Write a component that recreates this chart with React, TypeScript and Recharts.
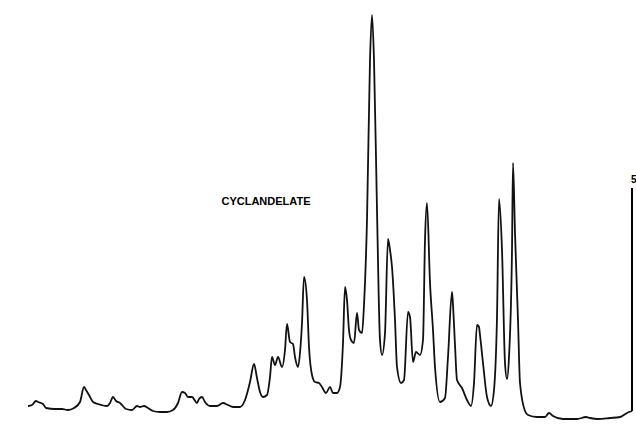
import { LineChart, Line, XAxis, YAxis, ReferenceLine, ReferenceDot } from 'recharts';

// channel position along the trace
const channels = [
  28, 32, 36, 38, 43, 46, 55, 62, 68, 74, 80, 84, 86, 89, 93, 98, 107, 110, 113, 116,
  120, 126, 132, 137, 140, 144, 148, 153, 160, 167, 173, 178, 182, 185, 188, 192, 197, 199, 202, 205,
  210, 217, 223, 228, 233, 240, 245, 250, 254, 257, 260, 263, 267, 270, 272, 275, 278, 282, 285, 287,
  290, 293, 295, 298, 300, 302, 304, 307, 309, 312, 315, 319, 322, 326, 330, 333, 337, 340, 343, 345,
  347, 349, 351, 354, 357, 359, 362, 364, 367, 370, 372, 374, 377, 380, 382, 385, 388, 390, 392, 395,
  397, 401, 404, 408, 410, 413, 416, 420, 423, 425, 427, 430, 433, 435, 440, 445, 448, 452, 453, 455,
  457, 462, 467, 471, 474, 477, 479, 480, 483, 487, 491, 494, 497, 499, 502, 505, 507, 509, 512, 513,
  515, 518, 520, 525, 528, 537, 545, 549, 553, 563, 577, 586, 590, 598, 610, 620, 627, 632,
];

// trace height (baseline ~0)
const intensity = [
  4, 5, 9, 8, 6, 2, 1, 1, 0, 2, 8, 23, 20, 15, 8, 6, 4, 7, 13, 9,
  7, 1, 0, 4, 3, 4, 2, -1, -2, -2, 0, 7, 18, 17, 13, 13, 7, 11, 13, 8,
  4, 4, 7, 5, 3, 3, 10, 28, 46, 32, 18, 13, 15, 33, 53, 45, 53, 43, 60, 86,
  68, 66, 53, 43, 57, 87, 133, 110, 63, 35, 28, 27, 23, 17, 23, 17, 17, 23, 67, 123,
  110, 80, 70, 67, 97, 80, 77, 105, 190, 350, 395, 350, 200, 70, 55, 77, 171, 160, 143, 90,
  43, 27, 30, 98, 93, 48, 58, 55, 70, 170, 207, 127, 80, 43, 8, 12, 53, 118, 105, 65,
  30, 22, 10, 4, 27, 85, 83, 75, 47, 13, 4, 20, 93, 211, 160, 47, 31, 53, 160, 247,
  177, 90, 27, -1, -5, -7, -7, -3, -6, -9, -9, -7, -8, -9, -8, -7, -3, -1,
];

const title = 'CYCLANDELATE';
const scaleLabel = '5';
const scaleTop = 222;

const data = channels.map((x, i) => ({ x, y: intensity[i] }));

const labelFont = {
  fill: '#000',
  fontWeight: 'bold',
  fontFamily: 'Liberation Sans, Arial, sans-serif',
};

export default function App() {
  return (
    <div style={{ position: 'absolute', left: 0, top: 0, background: '#fff' }}>
      <LineChart width={636} height={426} data={data} margin={{ top: 0, right: 0, bottom: 0, left: 0 }}>
        <XAxis dataKey="x" type="number" domain={[0, 636]} hide />
        <YAxis type="number" domain={[-16, 410]} hide allowDataOverflow />
        <ReferenceLine
          segment={[{ x: 632, y: -1 }, { x: 632, y: scaleTop }]}
          stroke="#000"
          strokeWidth={2}
          ifOverflow="visible"
        />
        <ReferenceDot
          x={631}
          y={231}
          r={0}
          fill="none"
          stroke="none"
          ifOverflow="visible"
          label={{ value: scaleLabel, position: 'right', offset: 0, fontSize: 10, ...labelFont }}
        />
        <ReferenceDot
          x={266}
          y={209}
          r={0}
          fill="none"
          stroke="none"
          ifOverflow="visible"
          label={{ value: title, position: 'center', fontSize: 11, ...labelFont }}
        />
        <Line
          type="monotone"
          dataKey="y"
          stroke="#111"
          strokeWidth={1.8}
          dot={false}
          activeDot={false}
          isAnimationActive={false}
        />
      </LineChart>
    </div>
  );
}
